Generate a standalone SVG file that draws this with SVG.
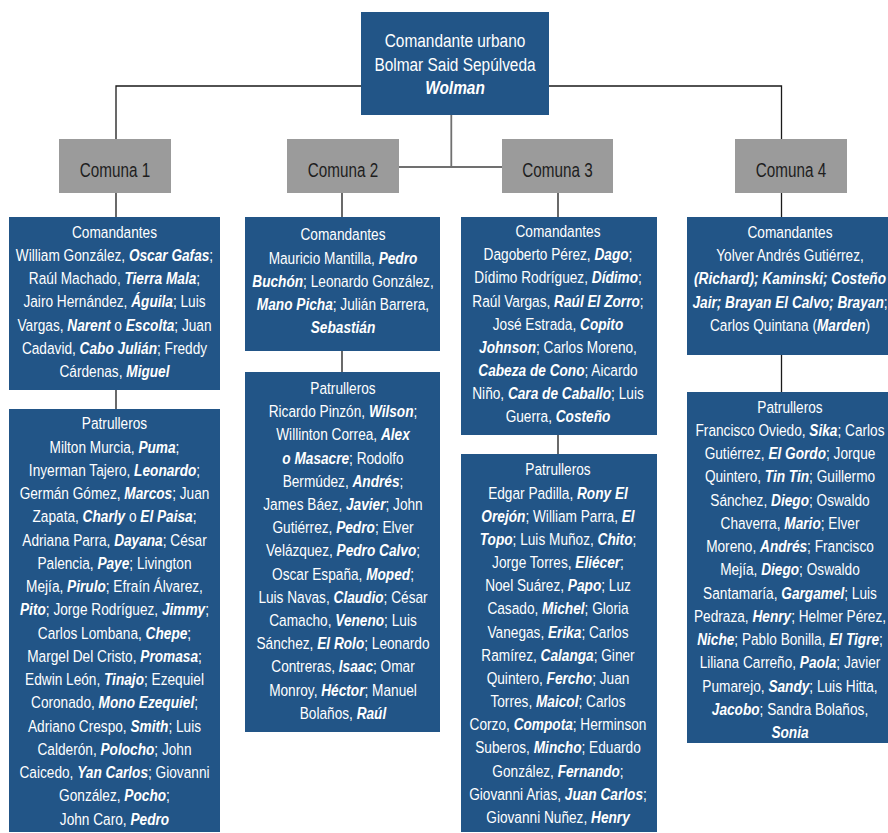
<svg xmlns="http://www.w3.org/2000/svg" width="888" height="833" viewBox="0 0 888 833">
<style>
.bg{fill:#ffffff}
.box{fill:#225587}
.com{fill:#9b9b9b}
.t{font-family:"Liberation Sans",Arial,sans-serif;font-size:17.2px;fill:#ffffff;text-anchor:middle}
.h{font-size:18.6px}
.ct{font-family:"Liberation Sans",Arial,sans-serif;font-size:19.3px;fill:#1e1e1e;text-anchor:middle}
.b{font-weight:bold;font-style:italic}
.ln{stroke:#1a1a1a;stroke-width:1.3;fill:none}
.lg{stroke:#707070;stroke-width:1.8;fill:none}
</style>
<rect class="bg" x="0" y="0" width="888" height="833"/>
<g id="connectors">
<polyline class="ln" points="116,139 116,86 781.5,86 781.5,139"/>
<line class="lg" x1="451.3" y1="115" x2="451.3" y2="167"/>
<line class="lg" x1="399" y1="167" x2="502" y2="167"/>
<line class="ln" x1="116" y1="193" x2="116" y2="217"/>
<line class="ln" x1="342" y1="193" x2="342" y2="217"/>
<line class="ln" x1="558" y1="193" x2="558" y2="217"/>
<line class="ln" x1="781.5" y1="193" x2="781.5" y2="217"/>
<line class="ln" x1="116" y1="390" x2="116" y2="409"/>
<line class="ln" x1="342" y1="351" x2="342" y2="372"/>
<line class="ln" x1="558" y1="435" x2="558" y2="454"/>
<line class="ln" x1="781.5" y1="355" x2="781.5" y2="392"/>
</g>
<g id="top">
<rect class="box" x="361" y="12" width="188" height="103"/>
<g transform="translate(455 0) scale(0.83 1)">
<text class="t h" x="0" y="47.5">Comandante urbano</text>
<text class="t h" x="0" y="71">Bolmar Said Sepúlveda</text>
<text class="t h b" x="0" y="94.5">Wolman</text>
</g>
</g>
<g id="comuna1">
<rect class="com" x="59" y="139" width="112" height="54"/>
<g transform="translate(115 0) scale(0.79 1)"><text class="ct" x="0" y="177">Comuna 1</text></g>
</g>
<g id="comuna2">
<rect class="com" x="287" y="139" width="112" height="54"/>
<g transform="translate(343 0) scale(0.79 1)"><text class="ct" x="0" y="177">Comuna 2</text></g>
</g>
<g id="comuna3">
<rect class="com" x="502" y="139" width="111" height="54"/>
<g transform="translate(557.5 0) scale(0.79 1)"><text class="ct" x="0" y="177">Comuna 3</text></g>
</g>
<g id="comuna4">
<rect class="com" x="735" y="139" width="112" height="54"/>
<g transform="translate(791 0) scale(0.79 1)"><text class="ct" x="0" y="177">Comuna 4</text></g>
</g>
<g id="c1-comandantes">
<rect class="box" x="9" y="217" width="211" height="173"/>
<g transform="translate(114.5 0) scale(0.795 1)">
<text class="t" x="0" y="237.8">Comandantes</text>
<text class="t" x="0" y="261">William González, <tspan class="b">Oscar Gafas</tspan>;</text>
<text class="t" x="0" y="284.2">Raúl Machado, <tspan class="b">Tierra Mala</tspan>;</text>
<text class="t" x="0" y="307.4">Jairo Hernández, <tspan class="b">Águila</tspan>; Luis</text>
<text class="t" x="0" y="330.6">Vargas, <tspan class="b">Narent</tspan> o <tspan class="b">Escolta</tspan>; Juan</text>
<text class="t" x="0" y="353.8">Cadavid, <tspan class="b">Cabo Julián</tspan>; Freddy</text>
<text class="t" x="0" y="377">Cárdenas, <tspan class="b">Miguel</tspan></text>
</g>
</g>
<g id="c1-patrulleros">
<rect class="box" x="9" y="409" width="211" height="423"/>
<g transform="translate(114.5 0) scale(0.795 1)">
<text class="t" x="0" y="429.5">Patrulleros</text>
<text class="t" x="0" y="452.7">Milton Murcia, <tspan class="b">Puma</tspan>;</text>
<text class="t" x="0" y="476">Inyerman Tajero, <tspan class="b">Leonardo</tspan>;</text>
<text class="t" x="0" y="499.2">Germán Gómez, <tspan class="b">Marcos</tspan>; Juan</text>
<text class="t" x="0" y="522.5">Zapata, <tspan class="b">Charly</tspan> o <tspan class="b">El Paisa</tspan>;</text>
<text class="t" x="0" y="545.7">Adriana Parra, <tspan class="b">Dayana</tspan>; César</text>
<text class="t" x="0" y="568.9">Palencia, <tspan class="b">Paye</tspan>; Livington</text>
<text class="t" x="0" y="592.2">Mejía, <tspan class="b">Pirulo</tspan>; Efraín Álvarez,</text>
<text class="t" x="0" y="615.4"><tspan class="b">Pito</tspan>; Jorge Rodríguez, <tspan class="b">Jimmy</tspan>;</text>
<text class="t" x="0" y="638.7">Carlos Lombana, <tspan class="b">Chepe</tspan>;</text>
<text class="t" x="0" y="661.9">Margel Del Cristo, <tspan class="b">Promasa</tspan>;</text>
<text class="t" x="0" y="685.1">Edwin León, <tspan class="b">Tinajo</tspan>; Ezequiel</text>
<text class="t" x="0" y="708.4">Coronado, <tspan class="b">Mono Ezequiel</tspan>;</text>
<text class="t" x="0" y="731.6">Adriano Crespo, <tspan class="b">Smith</tspan>; Luis</text>
<text class="t" x="0" y="754.9">Calderón, <tspan class="b">Polocho</tspan>; John</text>
<text class="t" x="0" y="778.1">Caicedo, <tspan class="b">Yan Carlos</tspan>; Giovanni</text>
<text class="t" x="0" y="801.3">González, <tspan class="b">Pocho</tspan>;</text>
<text class="t" x="0" y="824.6">John Caro, <tspan class="b">Pedro</tspan></text>
</g>
</g>
<g id="c2-comandantes">
<rect class="box" x="245" y="217" width="195" height="134"/>
<g transform="translate(343 0) scale(0.795 1)">
<text class="t" x="0" y="240.5">Comandantes</text>
<text class="t" x="0" y="263.7">Mauricio Mantilla, <tspan class="b">Pedro</tspan></text>
<text class="t" x="0" y="286.9"><tspan class="b">Buchón</tspan>; Leonardo González,</text>
<text class="t" x="0" y="310.1"><tspan class="b">Mano Picha</tspan>; Julián Barrera,</text>
<text class="t" x="0" y="333.3"><tspan class="b">Sebastián</tspan></text>
</g>
</g>
<g id="c2-patrulleros">
<rect class="box" x="245" y="372" width="195" height="360"/>
<g transform="translate(343 0) scale(0.795 1)">
<text class="t" x="0" y="394">Patrulleros</text>
<text class="t" x="0" y="417.2">Ricardo Pinzón, <tspan class="b">Wilson</tspan>;</text>
<text class="t" x="0" y="440.4">Willinton Correa, <tspan class="b">Alex</tspan></text>
<text class="t" x="0" y="463.6"><tspan class="b">o Masacre</tspan>; Rodolfo</text>
<text class="t" x="0" y="486.8">Bermúdez, <tspan class="b">Andrés</tspan>;</text>
<text class="t" x="0" y="510">James Báez, <tspan class="b">Javier</tspan>; John</text>
<text class="t" x="0" y="533.2">Gutiérrez, <tspan class="b">Pedro</tspan>; Elver</text>
<text class="t" x="0" y="556.4">Velázquez, <tspan class="b">Pedro Calvo</tspan>;</text>
<text class="t" x="0" y="579.6">Oscar España, <tspan class="b">Moped</tspan>;</text>
<text class="t" x="0" y="602.8">Luis Navas, <tspan class="b">Claudio</tspan>; César</text>
<text class="t" x="0" y="626">Camacho, <tspan class="b">Veneno</tspan>; Luis</text>
<text class="t" x="0" y="649.2">Sánchez, <tspan class="b">El Rolo</tspan>; Leonardo</text>
<text class="t" x="0" y="672.4">Contreras, <tspan class="b">Isaac</tspan>; Omar</text>
<text class="t" x="0" y="695.6">Monroy, <tspan class="b">Héctor</tspan>; Manuel</text>
<text class="t" x="0" y="718.8">Bolaños, <tspan class="b">Raúl</tspan></text>
</g>
</g>
<g id="c3-comandantes">
<rect class="box" x="461" y="217" width="196" height="218"/>
<g transform="translate(558 0) scale(0.795 1)">
<text class="t" x="0" y="237.3">Comandantes</text>
<text class="t" x="0" y="260.4">Dagoberto Pérez, <tspan class="b">Dago</tspan>;</text>
<text class="t" x="0" y="283.5">Dídimo Rodríguez, <tspan class="b">Dídimo</tspan>;</text>
<text class="t" x="0" y="306.6">Raúl Vargas, <tspan class="b">Raúl El Zorro</tspan>;</text>
<text class="t" x="0" y="329.7">José Estrada, <tspan class="b">Copito</tspan></text>
<text class="t" x="0" y="352.8"><tspan class="b">Johnson</tspan>; Carlos Moreno,</text>
<text class="t" x="0" y="375.9"><tspan class="b">Cabeza de Cono</tspan>; Aicardo</text>
<text class="t" x="0" y="399">Niño, <tspan class="b">Cara de Caballo</tspan>; Luis</text>
<text class="t" x="0" y="422.1">Guerra, <tspan class="b">Costeño</tspan></text>
</g>
</g>
<g id="c3-patrulleros">
<rect class="box" x="461" y="454" width="196" height="378"/>
<g transform="translate(558 0) scale(0.795 1)">
<text class="t" x="0" y="475.5">Patrulleros</text>
<text class="t" x="0" y="498.7">Edgar Padilla, <tspan class="b">Rony El</tspan></text>
<text class="t" x="0" y="521.8"><tspan class="b">Orejón</tspan>; William Parra, <tspan class="b">El</tspan></text>
<text class="t" x="0" y="545"><tspan class="b">Topo</tspan>; Luis Muñoz, <tspan class="b">Chito</tspan>;</text>
<text class="t" x="0" y="568.2">Jorge Torres, <tspan class="b">Eliécer</tspan>;</text>
<text class="t" x="0" y="591.4">Noel Suárez, <tspan class="b">Papo</tspan>; Luz</text>
<text class="t" x="0" y="614.5">Casado, <tspan class="b">Michel</tspan>; Gloria</text>
<text class="t" x="0" y="637.7">Vanegas, <tspan class="b">Erika</tspan>; Carlos</text>
<text class="t" x="0" y="660.9">Ramírez, <tspan class="b">Calanga</tspan>; Giner</text>
<text class="t" x="0" y="684">Quintero, <tspan class="b">Fercho</tspan>; Juan</text>
<text class="t" x="0" y="707.2">Torres, <tspan class="b">Maicol</tspan>; Carlos</text>
<text class="t" x="0" y="730.4">Corzo, <tspan class="b">Compota</tspan>; Herminson</text>
<text class="t" x="0" y="753.5">Suberos, <tspan class="b">Mincho</tspan>; Eduardo</text>
<text class="t" x="0" y="776.7">González, <tspan class="b">Fernando</tspan>;</text>
<text class="t" x="0" y="799.9">Giovanni Arias, <tspan class="b">Juan Carlos</tspan>;</text>
<text class="t" x="0" y="823">Giovanni Nuñez, <tspan class="b">Henry</tspan></text>
</g>
</g>
<g id="c4-comandantes">
<rect class="box" x="687" y="217" width="206" height="138"/>
<g transform="translate(790 0) scale(0.795 1)">
<text class="t" x="0" y="238">Comandantes</text>
<text class="t" x="0" y="261.3">Yolver Andrés Gutiérrez,</text>
<text class="t" x="0" y="284.5"><tspan class="b">(Richard); Kaminski; Costeño</tspan></text>
<text class="t" x="0" y="307.8"><tspan class="b">Jair; Brayan El Calvo; Brayan</tspan>;</text>
<text class="t" x="0" y="331">Carlos Quintana (<tspan class="b">Marden</tspan>)</text>
</g>
</g>
<g id="c4-patrulleros">
<rect class="box" x="687" y="392" width="206" height="351"/>
<g transform="translate(790 0) scale(0.795 1)">
<text class="t" x="0" y="412.7">Patrulleros</text>
<text class="t" x="0" y="435.9">Francisco Oviedo, <tspan class="b">Sika</tspan>; Carlos</text>
<text class="t" x="0" y="459.2">Gutiérrez, <tspan class="b">El Gordo</tspan>; Jorque</text>
<text class="t" x="0" y="482.4">Quintero, <tspan class="b">Tin Tin</tspan>; Guillermo</text>
<text class="t" x="0" y="505.7">Sánchez, <tspan class="b">Diego</tspan>; Oswaldo</text>
<text class="t" x="0" y="528.9">Chaverra, <tspan class="b">Mario</tspan>; Elver</text>
<text class="t" x="0" y="552.1">Moreno, <tspan class="b">Andrés</tspan>; Francisco</text>
<text class="t" x="0" y="575.4">Mejía, <tspan class="b">Diego</tspan>; Oswaldo</text>
<text class="t" x="0" y="598.6">Santamaría, <tspan class="b">Gargamel</tspan>; Luis</text>
<text class="t" x="0" y="621.9">Pedraza, <tspan class="b">Henry</tspan>; Helmer Pérez,</text>
<text class="t" x="0" y="645.1"><tspan class="b">Niche</tspan>; Pablo Bonilla, <tspan class="b">El Tigre</tspan>;</text>
<text class="t" x="0" y="668.3">Liliana Carreño, <tspan class="b">Paola</tspan>; Javier</text>
<text class="t" x="0" y="691.6">Pumarejo, <tspan class="b">Sandy</tspan>; Luis Hitta,</text>
<text class="t" x="0" y="714.8"><tspan class="b">Jacobo</tspan>; Sandra Bolaños,</text>
<text class="t" x="0" y="738"><tspan class="b">Sonia</tspan></text>
</g>
</g>
</svg>
